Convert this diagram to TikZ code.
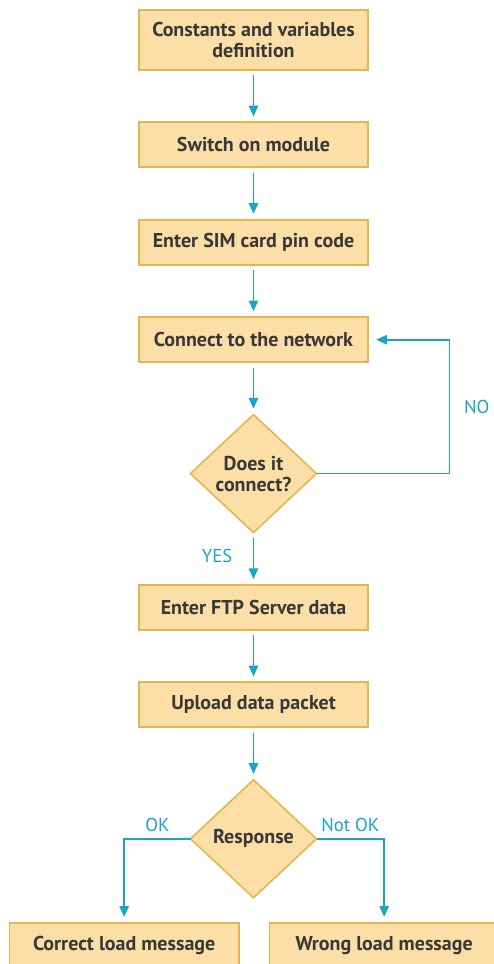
\documentclass[tikz,border=0pt]{standalone}
\usepackage{fontspec}
\setmainfont{PT Sans}
\usepackage{xcolor}
\usepackage{tikz}
\usetikzlibrary{arrows.meta,positioning,shapes.geometric}

\definecolor{boxfill}{HTML}{FCDFA7}
\definecolor{boxline}{HTML}{EBB24E}
\definecolor{flow}{HTML}{1AA5C4}
\definecolor{ink}{HTML}{383838}

\begin{document}
\begin{tikzpicture}[
    x=0.75pt, y=-0.75pt,
    node distance=39.3pt,
    box/.style={draw=boxline, fill=boxfill, line width=1.4pt, outer sep=0pt, minimum width=172pt, minimum height=33.75pt, font=\fontsize{15}{15.75}\selectfont\bfseries, text=ink, align=center},
    choice/.style={diamond, draw=boxline, fill=boxfill, line width=1.2pt, outer sep=0pt, inner sep=-4pt, minimum width=94.5pt, minimum height=88.5pt, font=\fontsize{15}{15.75}\selectfont\bfseries, text=ink, align=center},
    arr/.style={-{Triangle[length=8pt, width=7pt]}, line width=1.3pt, draw=flow, shorten <=4pt, shorten >=4.5pt},
    lbl/.style={font=\fontsize{14}{16}\selectfont, text=flow}
]
    \useasboundingbox (0,0) rectangle (493,964);

    % Setup steps
    \node[box, minimum height=45pt] (consts) at (253.5,40) {Constants and variables\\definition};
    \node[box, below=of consts] (switch) {Switch on module};
    \node[box, below=of switch] (pin) {Enter SIM card pin code};
    \node[box, below=of pin] (net) {Connect to the network};
    \node[choice, below=of net] (conn) {Does it\\connect?};

    % Transfer steps
    \node[box, below=of conn] (ftp) {Enter FTP Server data};
    \node[box, below=of ftp] (upload) {Upload data packet};
    \node[choice, below=of upload] (resp) {Response};

    % Result messages
    \node[box, anchor=north, below=18.75pt of resp.south, xshift=-97pt] (okmsg) {Correct load message};
    \node[box, anchor=north, below=18.75pt of resp.south, xshift=98pt] (errmsg) {Wrong load message};

    % Arrows
    \draw[arr] (consts) -- (switch);
    \draw[arr] (switch) -- (pin);
    \draw[arr] (pin) -- (net);
    \draw[arr] (net) -- (conn);
    \draw[arr] (conn) -- node[lbl, left=12pt, pos=0.45] {YES} (ftp);
    \draw[arr] (ftp) -- (upload);
    \draw[arr] (upload) -- (resp);

    % Retry loop
    \draw[arr, shorten <=0pt, shorten >=6pt] (conn.east) -- ++(133,0) |- node[lbl, right=7pt, pos=0.25] {NO} (net.east);

    % Response branches
    \draw[arr, shorten <=0pt] (resp.west) -| node[lbl, above=1pt, pos=0.25] {OK} (okmsg.north);
    \draw[arr, shorten <=0pt] (resp.east) -| node[lbl, above=1pt, pos=0.25] {Not OK} (errmsg.north);
\end{tikzpicture}
\end{document}
